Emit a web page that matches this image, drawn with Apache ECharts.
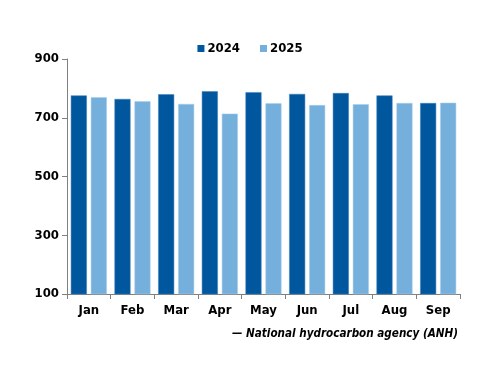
<!DOCTYPE html>
<html><head><meta charset="utf-8">
<script src="https://cdn.jsdelivr.net/npm/echarts@6/dist/echarts.min.js"></script>
<style>html,body{margin:0;padding:0;background:#fff}#c{width:500px;height:386px}</style>
</head><body><div id="c"></div>
<script>
const categories = ['Jan','Feb','Mar','Apr','May','Jun','Jul','Aug','Sep'];
const series2024 = [776, 764, 780, 790, 787, 781, 784, 776, 750];
const series2025 = [770, 756, 747, 714, 749, 743, 746, 750, 751];
const yTicks = [100, 300, 500, 700, 900];
const sourceText = '— National hydrocarbon agency (ANH)';

const font = 'DejaVu Sans Condensed';
const chart = echarts.init(document.getElementById('c'));
chart.setOption({
  animation: false,
  textStyle: {fontFamily: font},
  legend: {
    top: 37, left: 'center', itemWidth: 7, itemHeight: 7, itemGap: 20,
    icon: 'rect',
    itemStyle: {borderWidth: 0},
    textStyle: {fontFamily: font, fontSize: 13, fontWeight: 'bold', color: '#000', padding: [0, 0, 0, -2]},
    data: ['2024', '2025']
  },
  grid: {left: 67, right: 40, top: 59, bottom: 92, containLabel: false},
  xAxis: {
    type: 'category', data: categories,
    axisLine: {lineStyle: {color: '#808080', width: 1}},
    axisTick: {show: true, length: 5, lineStyle: {color: '#808080'}},
    axisLabel: {fontFamily: font, fontSize: 13, fontWeight: 'bold', color: '#000', margin: 10}
  },
  yAxis: {
    type: 'value', min: 100, max: 900, interval: 200,
    axisLine: {show: true, lineStyle: {color: '#808080', width: 1}},
    axisTick: {show: true, length: 5, lineStyle: {color: '#808080'}, customValues: yTicks},
    axisLabel: {fontFamily: font, fontSize: 13, fontWeight: 'bold', color: '#000', margin: 8, customValues: yTicks},
    splitLine: {show: false}
  },
  graphic: [{
    type: 'text', right: 42, top: 328,
    style: {text: sourceText, fontFamily: font, fontSize: 11.6, fontWeight: 'bold', fontStyle: 'italic', fill: '#000'}
  }],
  series: [
    {name: '2024', type: 'bar', data: series2024, barWidth: 16, barGap: '25%',
     itemStyle: {color: '#00579e', borderColor: '#3a7fbf', borderWidth: 0.5}},
    {name: '2025', type: 'bar', data: series2025, barWidth: 16,
     itemStyle: {color: '#75b0dc', borderColor: '#a8cdea', borderWidth: 0.5}}
  ]
});
</script></body></html>
